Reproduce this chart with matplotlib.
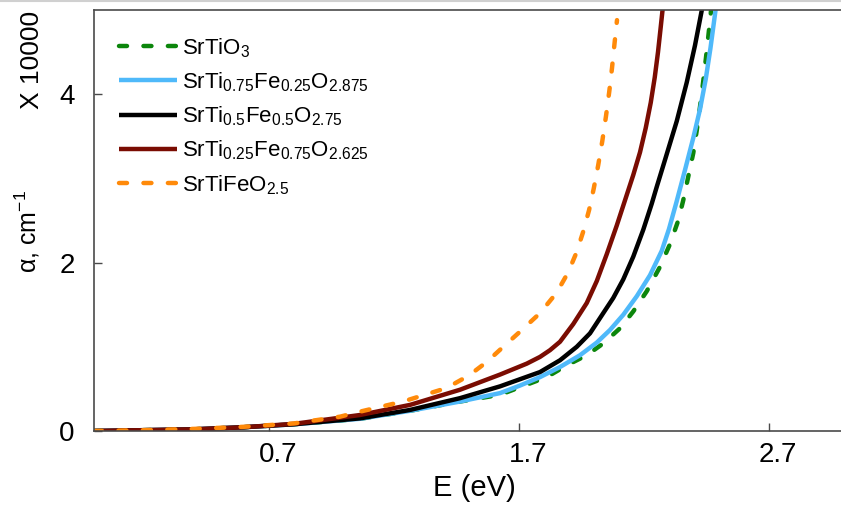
import matplotlib
matplotlib.use("Agg")
import matplotlib.pyplot as plt
import matplotlib.transforms as mtransforms
from matplotlib.lines import Line2D

plt.rcParams['font.family'] = ['Liberation Sans', 'DejaVu Sans']
plt.rcParams['mathtext.default'] = 'regular'

# Absorption coefficient (x 10000 cm^-1) versus photon energy (eV)
labels = [
    "SrTiO$_3$",
    "SrTi$_{0.75}$Fe$_{0.25}$O$_{2.875}$",
    "SrTi$_{0.5}$Fe$_{0.5}$O$_{2.75}$",
    "SrTi$_{0.25}$Fe$_{0.75}$O$_{2.625}$",
    "SrTiFeO$_{2.5}$",
]

e_sto = [0.0, 0.2, 0.4, 0.6, 0.8, 1.064, 1.264, 1.464, 1.624, 1.704, 1.811, 1.891,
         1.971, 2.037, 2.104, 2.157, 2.211, 2.264, 2.304, 2.337, 2.357, 2.377, 2.397,
         2.411, 2.424, 2.436, 2.447, 2.457, 2.467, 2.474]
a_sto = [0.0, 0.01, 0.02, 0.045, 0.08, 0.145, 0.24, 0.35, 0.43, 0.52, 0.64, 0.78,
         0.90, 1.04, 1.22, 1.42, 1.66, 1.95, 2.22, 2.50, 2.74, 3.02, 3.30,
         3.57, 3.85, 4.13, 4.41, 4.68, 4.96, 5.2]

e_fe25 = [0.0, 0.2, 0.4, 0.6, 0.8, 1.064, 1.264, 1.464, 1.624, 1.704, 1.784, 1.864,
          1.944, 2.011, 2.064, 2.117, 2.171, 2.224, 2.271, 2.30, 2.33, 2.364, 2.397,
          2.424, 2.447, 2.466, 2.484, 2.495]
a_fe25 = [0.0, 0.01, 0.02, 0.045, 0.08, 0.145, 0.24, 0.35, 0.45, 0.54, 0.64, 0.76,
          0.90, 1.05, 1.20, 1.38, 1.60, 1.85, 2.14, 2.40, 2.72, 3.10, 3.48,
          3.82, 4.18, 4.55, 4.95, 5.2]

e_fe50 = [0.0, 0.2, 0.4, 0.6, 0.8, 1.064, 1.264, 1.464, 1.624, 1.784, 1.864, 1.931,
          1.984, 2.037, 2.077, 2.117, 2.157, 2.197, 2.231, 2.251, 2.284, 2.331, 2.371,
          2.404, 2.43, 2.445]
a_fe50 = [0.0, 0.01, 0.02, 0.045, 0.08, 0.15, 0.25, 0.39, 0.53, 0.70, 0.84, 1.0,
          1.16, 1.40, 1.58, 1.80, 2.07, 2.39, 2.70, 2.90, 3.22, 3.68, 4.14,
          4.58, 4.98, 5.22]

e_fe75 = [0.0, 0.2, 0.4, 0.6, 0.8, 1.064, 1.264, 1.464, 1.624, 1.731, 1.784, 1.824,
          1.864, 1.917, 1.971, 2.011, 2.051, 2.091, 2.124, 2.157, 2.184, 2.207, 2.227,
          2.243, 2.256, 2.267, 2.276]
a_fe75 = [0.0, 0.01, 0.02, 0.045, 0.085, 0.19, 0.31, 0.49, 0.67, 0.80, 0.88, 0.96,
          1.06, 1.27, 1.52, 1.78, 2.10, 2.44, 2.74, 3.04, 3.31, 3.60, 3.90,
          4.20, 4.50, 4.80, 5.05]

e_fe100 = [0.0, 0.2, 0.4, 0.6, 0.8, 0.984, 1.064, 1.236, 1.41, 1.5, 1.571, 1.637,
           1.704, 1.784, 1.85, 1.896, 1.93, 1.956, 1.98, 1.999, 2.017, 2.033, 2.048,
           2.061, 2.072, 2.082, 2.092]
a_fe100 = [0.0, 0.01, 0.025, 0.05, 0.09, 0.17, 0.23, 0.35, 0.51, 0.66, 0.82, 1.00,
           1.18, 1.40, 1.64, 1.88, 2.12, 2.36, 2.62, 2.88, 3.16, 3.44, 3.74,
           4.03, 4.31, 4.60, 4.88]

x_ticks = [0.7, 1.7, 2.7]
y_ticks = [0, 2, 4]

series = [(e_sto, a_sto), (e_fe25, a_fe25), (e_fe50, a_fe50), (e_fe75, a_fe75), (e_fe100, a_fe100)]
colors = ['#0c860c', '#4fb9fa', '#000000', '#7a0c02', '#ff8a0a']
dashed = [True, False, False, False, True]

W, H = 841, 512
fig = plt.figure(figsize=(W / 100, H / 100), dpi=100)
ax = fig.add_axes([94 / W, (H - 431) / H, 750 / W, 421 / H])

for (ex, ay), c, d, lab in zip(series, colors, dashed, labels):
    if d:
        ax.plot(ex, ay, color=c, lw=3.2, linestyle=(0, (1.8, 3.7)),
                dash_capstyle='round', label=lab)
    else:
        ax.plot(ex, ay, color=c, lw=3.2, solid_capstyle='butt',
                solid_joinstyle='round', label=lab)

ax.set_xlim(0, 3)
ax.set_ylim(0, 5)

spine_col = '#4a4a4a'
for side in ['left', 'bottom', 'top', 'right']:
    ax.spines[side].set_color(spine_col)
    ax.spines[side].set_linewidth(1.2)

ax.set_xticks(x_ticks)
ax.set_xticklabels([f"{v:.1f}" for v in x_ticks])
ax.set_yticks(y_ticks)
ax.set_yticklabels([str(v) for v in y_ticks])
ax.tick_params(direction='in', length=6, width=1.0, color=spine_col,
               labelsize=20, pad=8)
ax.tick_params(axis='y', pad=14)

# shift x tick labels slightly to the right
offset = mtransforms.ScaledTranslation(9 / 100, 0, fig.dpi_scale_trans)
for lbl in ax.get_xticklabels():
    lbl.set_transform(lbl.get_transform() + offset)

fig.text(474 / W, 1 - 488 / H, "E (eV)", fontsize=21, ha='center', va='center')
fig.text(27 / W, 1 - 231 / H, "α, cm$^{-1}$", fontsize=18, rotation=90,
         ha='center', va='center')
fig.text(32 / W, 1 - 60 / H, "X 10000", fontsize=19, rotation=90,
         ha='center', va='center')

leg = ax.legend(loc='upper left', bbox_to_anchor=(119 / W, 1 - 36 / H),
                bbox_transform=fig.transFigure, frameon=False, fontsize=16,
                handlelength=2.6, handletextpad=0.24, labelspacing=0.48,
                borderpad=0, borderaxespad=0)

fig.add_artist(Line2D([0, 1], [1 - 1 / H, 1 - 1 / H], transform=fig.transFigure,
                      color='#d0d0d0', lw=1.5))

fig.savefig("out.png", dpi=100)
